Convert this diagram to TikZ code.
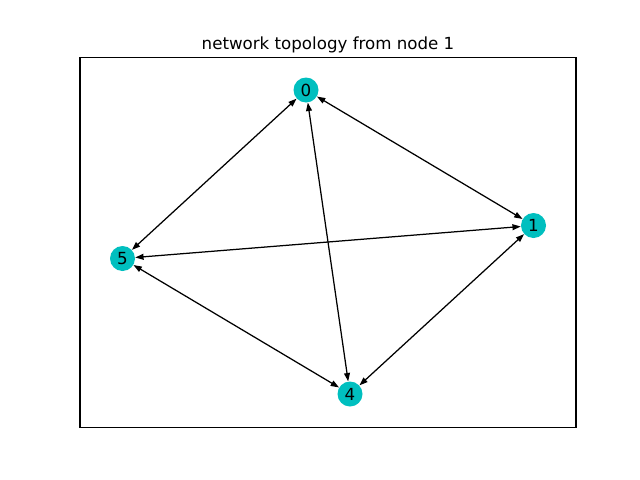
\documentclass[tikz,border=0pt]{standalone}
\usepackage{fontspec}
\setmainfont{DejaVu Sans}
\usetikzlibrary{arrows.meta}
\definecolor{nodecyan}{RGB}{0,191,191}
\begin{document}
\begin{tikzpicture}[x=0.72pt,y=-0.72pt,
  vert/.style={circle,fill=nodecyan,minimum size=18pt,inner sep=0pt,font=\fontsize{12pt}{14pt}\selectfont},
  link/.style={{Triangle[length=6pt,width=4.2pt]}-{Triangle[length=6pt,width=4.2pt]},line width=0.9pt,black}]
\useasboundingbox (0,0) rectangle (640,480);
\draw[line width=0.8pt] (80,57.6) rectangle (576,427.2);
\node[anchor=base,font=\fontsize{12pt}{14pt}\selectfont] (title) at (328,49) {network topology from node 1};
\node[vert] (n0) at (306,90) {0};
\node[vert] (n1) at (533.5,225.5) {1};
\node[vert] (n5) at (122.5,258.5) {5};
\node[vert] (n4) at (350,394) {4};
\draw[link] (n0) -- (n1);
\draw[link] (n0) -- (n5);
\draw[link] (n0) -- (n4);
\draw[link] (n5) -- (n1);
\draw[link] (n5) -- (n4);
\draw[link] (n1) -- (n4);
\end{tikzpicture}
\end{document}
